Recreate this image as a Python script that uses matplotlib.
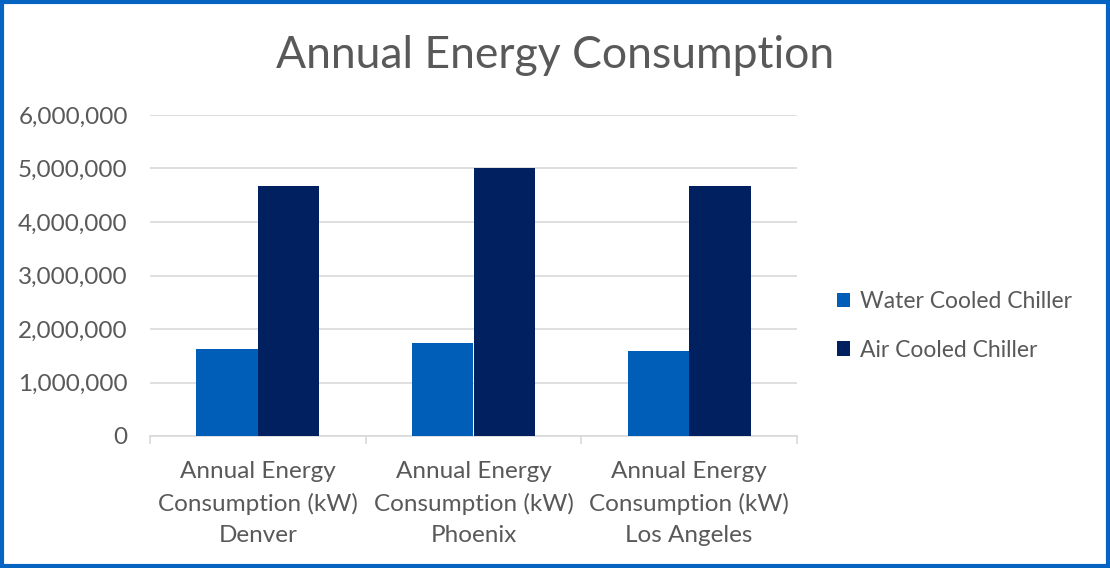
import matplotlib.pyplot as plt
import numpy as np
from matplotlib.patches import Rectangle

plt.rcParams['font.family'] = ['Lato', 'DejaVu Sans']

categories = ["Annual Energy\nConsumption (kW)\nDenver",
              "Annual Energy\nConsumption (kW)\nPhoenix",
              "Annual Energy\nConsumption (kW)\nLos Angeles"]
water_cooled = [1620000, 1730000, 1590000]
air_cooled = [4670000, 5000000, 4670000]
series_names = ["Water Cooled Chiller", "Air Cooled Chiller"]

text_color = "#595959"
water_color = "#005EB8"
air_color = "#002060"

fig = plt.figure(figsize=(11.1, 5.68), dpi=100)
ax = fig.add_axes([150/1110, 1 - 436/568, (797-150)/1110, (436-115)/568])

x = np.arange(len(categories))
w = 0.285
ax.bar(x - w/2, water_cooled, w, color=water_color, label=series_names[0], zorder=3)
ax.bar(x + w/2, air_cooled, w, color=air_color, label=series_names[1], zorder=3)

ax.set_xlim(-0.5, 2.5)
ax.set_ylim(0, 6000000)
ax.set_yticks(np.arange(0, 6000001, 1000000))
ax.set_yticklabels([f"{v:,}" for v in range(0, 6000001, 1000000)])
ax.yaxis.grid(True, color="#D9D9D9", linewidth=1.2, zorder=0)
ax.set_axisbelow(True)

ax.set_xticks([-0.5, 0.5, 1.5, 2.5], minor=False)
ax.set_xticklabels([])
ax.set_xticks(x, minor=True)
ax.set_xticklabels(categories, minor=True, fontsize=17.5, color=text_color, linespacing=1.6)
ax.tick_params(axis='x', which='major', length=6, color="#D9D9D9", width=1.2)
ax.tick_params(axis='x', which='minor', length=0, pad=18)
ax.tick_params(axis='y', length=0, labelsize=17.5, labelcolor=text_color, pad=16)

for s in ['top', 'right', 'left']:
    ax.spines[s].set_visible(False)
ax.spines['bottom'].set_color("#D9D9D9")
ax.spines['bottom'].set_linewidth(1.2)

fig.text(0.5, 1 - 56/568, "Annual Energy Consumption", ha='center', va='center',
         fontsize=32, color=text_color)

fig.legend(loc='center left', bbox_to_anchor=(816/1110, 1 - 326/568), frameon=False,
           fontsize=16.5, labelcolor=text_color, handlelength=0.6, handleheight=0.6,
           handletextpad=0.4, labelspacing=1.2)

fig.patches.append(Rectangle((0.002, 0.003), 0.996, 0.994, transform=fig.transFigure,
                             fill=False, edgecolor="#0563C1", linewidth=3))

fig.savefig("out.png", dpi=100)
